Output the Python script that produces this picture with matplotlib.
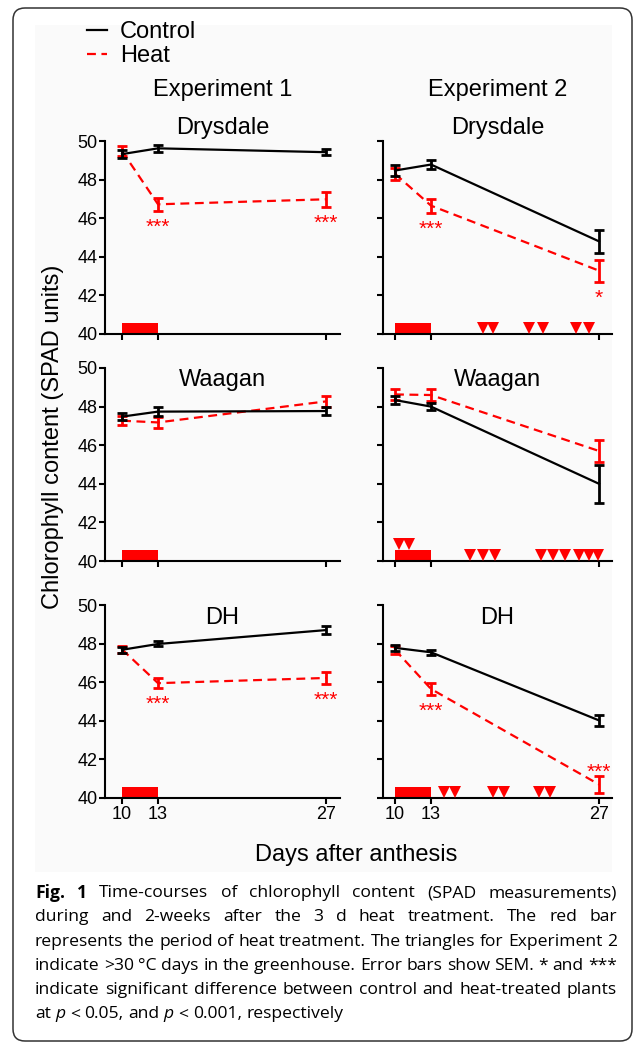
import matplotlib
matplotlib.use("Agg")
from matplotlib import pyplot as plt
from matplotlib.patches import FancyBboxPatch, Rectangle
from matplotlib.transforms import IdentityTransform, offset_copy
import numpy as np

plt.rcParams['font.family'] = ['Liberation Sans', 'DejaVu Sans']

# ---- data ----
days = np.array([10, 13, 27])
heat_start, heat_end = 10, 13

exp1_drysdale_control = [49.32, 49.62, 49.42]
exp1_drysdale_control_sem = [0.20, 0.18, 0.17]
exp1_drysdale_heat = [49.48, 46.72, 46.98]
exp1_drysdale_heat_sem = [0.25, 0.33, 0.38]
exp1_drysdale_sig = ["", "***", "***"]

exp2_drysdale_control = [48.47, 48.78, 44.80]
exp2_drysdale_control_sem = [0.30, 0.23, 0.58]
exp2_drysdale_heat = [48.30, 46.65, 43.28]
exp2_drysdale_heat_sem = [0.30, 0.37, 0.58]
exp2_drysdale_sig = ["", "***", "*"]
exp2_drysdale_hot_days = [17.3, 18.2, 21.2, 22.3, 25.1, 26.2]

exp1_waagan_control = [47.48, 47.74, 47.77]
exp1_waagan_control_sem = [0.17, 0.25, 0.20]
exp1_waagan_heat = [47.27, 47.18, 48.27]
exp1_waagan_heat_sem = [0.22, 0.29, 0.27]
exp1_waagan_sig = ["", "", ""]

exp2_waagan_control = [48.34, 48.00, 44.00]
exp2_waagan_control_sem = [0.23, 0.20, 0.98]
exp2_waagan_heat = [48.63, 48.60, 45.70]
exp2_waagan_heat_sem = [0.28, 0.33, 0.57]
exp2_waagan_sig = ["", "", ""]
exp2_waagan_hot_days = [10.3, 11.2, 16.25, 17.35, 18.3, 22.15, 23.2, 24.2, 25.3, 26.2, 26.9]

exp1_dh_control = [47.68, 47.98, 48.70]
exp1_dh_control_sem = [0.15, 0.13, 0.20]
exp1_dh_heat = [47.70, 45.95, 46.22]
exp1_dh_heat_sem = [0.20, 0.25, 0.30]
exp1_dh_sig = ["", "***", "***"]

exp2_dh_control = [47.78, 47.55, 44.02]
exp2_dh_control_sem = [0.15, 0.13, 0.28]
exp2_dh_heat = [47.68, 45.65, 40.70]
exp2_dh_heat_sem = [0.22, 0.32, 0.45]
exp2_dh_sig = ["", "***", "***"]
exp2_dh_hot_days = [14.1, 15.0, 18.2, 19.1, 22.0, 22.9]

cultivars = ["Drysdale", "Waagan", "DH"]
experiments = ["Experiment 1", "Experiment 2"]

panels = [
    [(exp1_drysdale_control, exp1_drysdale_control_sem, exp1_drysdale_heat, exp1_drysdale_heat_sem, exp1_drysdale_sig, []),
     (exp2_drysdale_control, exp2_drysdale_control_sem, exp2_drysdale_heat, exp2_drysdale_heat_sem, exp2_drysdale_sig, exp2_drysdale_hot_days)],
    [(exp1_waagan_control, exp1_waagan_control_sem, exp1_waagan_heat, exp1_waagan_heat_sem, exp1_waagan_sig, []),
     (exp2_waagan_control, exp2_waagan_control_sem, exp2_waagan_heat, exp2_waagan_heat_sem, exp2_waagan_sig, exp2_waagan_hot_days)],
    [(exp1_dh_control, exp1_dh_control_sem, exp1_dh_heat, exp1_dh_heat_sem, exp1_dh_sig, []),
     (exp2_dh_control, exp2_dh_control_sem, exp2_dh_heat, exp2_dh_heat_sem, exp2_dh_sig, exp2_dh_hot_days)],
]

caption_lines = [
    "Fig. 1 Time-courses of chlorophyll content (SPAD measurements)",
    "during and 2-weeks after the 3 d heat treatment. The red bar",
    "represents the period of heat treatment. The triangles for Experiment 2",
    "indicate >30 \u00b0C days in the greenhouse. Error bars show SEM. * and ***",
    "indicate significant difference between control and heat-treated plants",
    "at p < 0.05, and p < 0.001, respectively",
]

# ---- layout (pixels) ----
W, H = 636, 1044
RED = '#ff0000'
col_x = [(105, 340), (383, 612)]
col_xlim = [(8.58, 28.17), (9.0, 28.08)]
row_y = [(141, 334), (368, 561), (605, 798)]
name_dy = [13, -12, -13]
CAP_SIZE = 12.6

fig = plt.figure(figsize=(W / 100, H / 100), dpi=100)

# frame and light background like the journal figure
fig.patches.append(Rectangle((35, H - 872), 577, 847, transform=IdentityTransform(),
                             facecolor='#fafafa', edgecolor='none', zorder=-5))
fig.patches.append(FancyBboxPatch((13, 3), 619, H - 11, transform=IdentityTransform(),
                                  boxstyle="round,pad=0,rounding_size=12",
                                  facecolor='none', edgecolor='#333333', lw=1.1))

legend_handles = None
for r, cultivar in enumerate(cultivars):
    for c, exp in enumerate(experiments):
        ctl, ctl_sem, heat, heat_sem, sig, hot = panels[r][c]
        x0, x1 = col_x[c]
        y0, y1 = row_y[r]
        ax = fig.add_axes([x0 / W, 1 - y1 / H, (x1 - x0) / W, (y1 - y0) / H])
        ax.patch.set_alpha(0)

        # heat treatment bar
        ax.fill_between([heat_start, heat_end], 40, 40.55, color=RED, lw=0, zorder=2)

        h = ax.errorbar(days, heat, yerr=heat_sem, fmt='--', color=RED, lw=1.6,
                        dashes=(4, 2.5), elinewidth=2, capsize=3.5, capthick=2,
                        zorder=3, clip_on=False)
        k = ax.errorbar(days, ctl, yerr=ctl_sem, fmt='-', color='black', lw=1.6,
                        elinewidth=2, capsize=3.5, capthick=2, zorder=4, clip_on=False)
        if legend_handles is None:
            legend_handles = [k.lines[0], h.lines[0]]

        # significance marks
        for d, m, s, txt in zip(days, heat, heat_sem, sig):
            if not txt:
                continue
            if m - s < 41.5:
                ax.annotate(txt, (d, m + s), xytext=(0, 7.2 - 8.7), textcoords='offset points',
                            ha='center', va='baseline', color=RED, fontsize=15)
            else:
                ax.annotate(txt, (d, m - s), xytext=(0, -7.2 - 8.7), textcoords='offset points',
                            ha='center', va='baseline', color=RED, fontsize=15)

        # >30 C days
        if hot:
            ms = 8.5
            tr = offset_copy(ax.transData, fig=fig, y=ms / 2, units='points')
            hot = np.array(hot)
            base = np.where((hot >= heat_start) & (hot <= heat_end), 40.55, 40.0)
            ax.plot(hot, base, 'v', color=RED, ms=ms, mew=0, transform=tr,
                    clip_on=False, zorder=5)

        ax.set_xlim(*col_xlim[c])
        ax.set_ylim(40, 50)
        ax.set_xticks(days)
        ax.set_yticks(np.arange(40, 51, 2))
        for side in ['top', 'right']:
            ax.spines[side].set_visible(False)
        for side in ['left', 'bottom']:
            ax.spines[side].set_linewidth(1.5)
        ax.tick_params(width=1.5, length=4, labelsize=13, pad=1.5, direction='out')
        if c == 1:
            ax.set_yticklabels([])
        if r < 2:
            ax.set_xticklabels([])
        ax.text(0.5, 1 + name_dy[r] / (y1 - y0), cultivar, transform=ax.transAxes,
                ha='center', va='center', fontsize=17)
        if r == 0:
            fig.text((x0 + x1) / 2 / W, 1 - 90 / H, exp, ha='center', va='center', fontsize=17)

fig.text(53 / W, 1 - 437 / H, "Chlorophyll content (SPAD units)", rotation=90,
         ha='center', va='center', fontsize=17)
fig.text(356 / W, 1 - 855 / H, "Days after anthesis", ha='center', va='center', fontsize=17)

fig.legend(legend_handles, ["Control", "Heat"], loc='upper left',
           bbox_to_anchor=(87 / W, 1 - 21 / H), frameon=False, fontsize=17,
           handlelength=0.85, handletextpad=0.55, labelspacing=0.1,
           borderpad=0, borderaxespad=0)

# ---- justified caption ----
renderer = fig.canvas.get_renderer()
cap_left, cap_right = 35, 617


def text_width(s, **kw):
    t = fig.text(0, 0, s, fontsize=CAP_SIZE, family='Open Sans', **kw)
    w = t.get_window_extent(renderer).width
    t.remove()
    return w


space_w = text_width("a a") - text_width("aa")
for i, line in enumerate(caption_lines):
    y = 1 - (893 + 24.3 * i) / H
    words = line.split(" ")
    texts = []
    for j, w in enumerate(words):
        weight = 'bold' if (i == 0 and j < 2) else 'normal'
        style = 'italic' if w == 'p' else 'normal'
        texts.append(fig.text(0, y, w, fontsize=CAP_SIZE, family='Open Sans',
                              weight=weight, style=style, va='center', ha='left'))
    widths = [t.get_window_extent(renderer).width for t in texts]
    if i < len(caption_lines) - 1:
        gap = (cap_right - cap_left - sum(widths)) / (len(words) - 1)
    else:
        gap = space_w
    x = cap_left
    for t, w in zip(texts, widths):
        t.set_x(x / W)
        x += w + gap

fig.savefig("out.png", dpi=100)
